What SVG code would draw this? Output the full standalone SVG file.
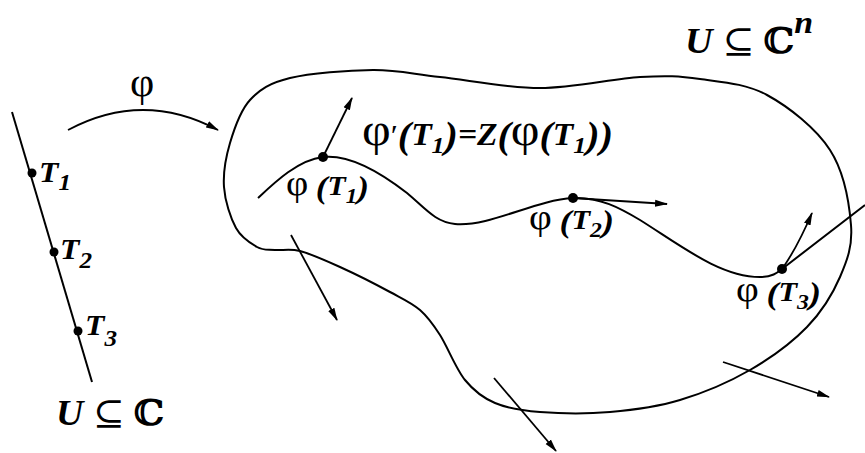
<svg xmlns="http://www.w3.org/2000/svg" width="865" height="453" viewBox="0 0 865 453">
<style>
.ln{fill:none;stroke:#000;stroke-width:2}
.ar{fill:none;stroke:#000;stroke-width:1.8;marker-end:url(#ah)}
.t{font-family:"Liberation Serif","Times New Roman",serif;font-style:italic;font-weight:bold;fill:#000}
.ph{font-family:"Liberation Serif","Times New Roman",serif;font-style:normal;font-weight:normal}
.cc{font-family:"DejaVu Serif","Liberation Serif",serif;font-style:normal;font-weight:bold}
.op{font-family:"DejaVu Serif","Liberation Serif",serif;font-style:normal;font-weight:normal}
</style>
<defs>
<marker id="ah" markerUnits="userSpaceOnUse" markerWidth="14" markerHeight="9" refX="12" refY="4.5" orient="auto">
<path d="M0,1 L13,4.5 L0,8 Z" fill="#000"/>
</marker>
</defs>
<g id="domain-line">
<line class="ln" x1="12" y1="112" x2="92" y2="382"/>
</g>
<g id="region-U">
<path class="ln" d="M257,247 C250.5,243.3 241.5,238 236,228 C230.5,218 225,201.2 224,187 C223,172.8 225.7,157.5 230,143 C234.3,128.5 240,110.8 250,100 C260,89.2 269.5,83 290,78 C310.5,73 348,70.2 373,70 C398,69.8 412.2,74 440,77 C467.8,80 506.7,88 540,88 C573.3,88 613.3,78.5 640,77 C666.7,75.5 678.8,76 700,79 C721.2,82 745.3,83.2 767,95 C788.7,106.8 816,128.3 830,150 C844,171.7 849.3,203.8 851,225 C852.7,246.2 847.3,260 840,277 C832.7,294 822,311.5 807,327 C792,342.5 771.2,357.8 750,370 C728.8,382.2 703.3,393 680,400 C656.7,407 633.3,410 610,412 C586.7,414 559.2,413.5 540,412 C520.8,410.5 507.5,408.3 495,403 C482.5,397.7 474.2,391.3 465,380 C455.8,368.7 447.5,346.7 440,335 C432.5,323.3 428.3,317.2 420,310 C411.7,302.8 403.3,299.2 390,292 C376.7,284.8 355,273.8 340,267 C325,260.2 310.8,253.8 300,251 C289.2,248.2 282.2,250.7 275,250 C267.8,249.3 263.5,250.7 257,247 Z"/>
</g>
<g id="curve-phi">
<path class="ln" d="M258,198 C275,182 298,160 323,157 C350,154 380,172 407,193 C425,208 435,222 455,224 C490,227 535,200 573,198 C600,197 620,208 640,220 C680,245 720,277 760,277 C772,277 777,273 782,269 L865,205"/>
</g>
<g id="connectors">
<path class="ar" d="M68,130 Q143,90 218,130"/>
<path class="ar" d="M323,157 L352,98"/>
<path class="ar" d="M573,198 L667,204"/>
<path class="ar" d="M782,269 Q797,248 812,213"/>
<path class="ar" d="M291,235 L337,320"/>
<path class="ar" d="M494,378 L556,451"/>
<path class="ar" d="M723,362 L829,397"/>
</g>
<g id="points">
<circle cx="32" cy="173" r="4.5"/>
<circle cx="54" cy="252" r="4.5"/>
<circle cx="78" cy="331" r="4.5"/>
<circle cx="323" cy="157" r="5"/>
<circle cx="573" cy="198" r="5"/>
<circle cx="782" cy="269" r="5"/>
</g>
<g id="labels">
<text class="ph" x="142" y="96" font-size="42" text-anchor="middle">φ</text>
<text class="t" x="39" y="182" font-size="29" textLength="32" lengthAdjust="spacingAndGlyphs">T<tspan font-size="23" dy="8">1</tspan></text>
<text class="t" x="60" y="259" font-size="29" textLength="32" lengthAdjust="spacingAndGlyphs">T<tspan font-size="23" dy="9">2</tspan></text>
<text class="t" x="85" y="335" font-size="29" textLength="32" lengthAdjust="spacingAndGlyphs">T<tspan font-size="23" dy="11">3</tspan></text>
<text class="t" x="56" y="425" font-size="35" textLength="108" lengthAdjust="spacingAndGlyphs">U <tspan class="op">⊆</tspan> <tspan class="cc">ℂ</tspan></text>
<text class="t" x="685" y="53" font-size="35" textLength="128" lengthAdjust="spacingAndGlyphs">U <tspan class="op">⊆</tspan> <tspan class="cc">ℂ</tspan><tspan font-size="31" dy="-20">n</tspan></text>
<text class="t" x="362" y="145" font-size="31" textLength="251" lengthAdjust="spacingAndGlyphs"><tspan class="ph" font-size="46">φ</tspan><tspan class="ph" font-size="30">′</tspan><tspan font-size="37" dy="3">(</tspan><tspan dy="-3">T</tspan><tspan font-size="24" dy="8">1</tspan><tspan font-size="37" dy="-5">)</tspan><tspan dy="-3">=Z</tspan><tspan font-size="37" dy="3">(</tspan><tspan class="ph" font-size="46" dy="-3">φ</tspan><tspan font-size="37" dy="3">(</tspan><tspan dy="-3">T</tspan><tspan font-size="24" dy="8">1</tspan><tspan font-size="37" dy="-5">))</tspan></text>
<text class="t" x="286" y="195" font-size="27" textLength="83" lengthAdjust="spacingAndGlyphs"><tspan class="ph" font-size="35">φ</tspan> <tspan font-size="32" dy="3">(</tspan><tspan dy="-3">T</tspan><tspan font-size="21" dy="8">1</tspan><tspan font-size="32" dy="-5">)</tspan></text>
<text class="t" x="529" y="229" font-size="27" textLength="85" lengthAdjust="spacingAndGlyphs"><tspan class="ph" font-size="35">φ</tspan> <tspan font-size="32" dy="3">(</tspan><tspan dy="-3">T</tspan><tspan font-size="21" dy="8">2</tspan><tspan font-size="32" dy="-5">)</tspan></text>
<text class="t" x="736" y="301" font-size="27" textLength="85" lengthAdjust="spacingAndGlyphs"><tspan class="ph" font-size="35">φ</tspan> <tspan font-size="32" dy="3">(</tspan><tspan dy="-3">T</tspan><tspan font-size="21" dy="8">3</tspan><tspan font-size="32" dy="-5">)</tspan></text>
</g>
</svg>
